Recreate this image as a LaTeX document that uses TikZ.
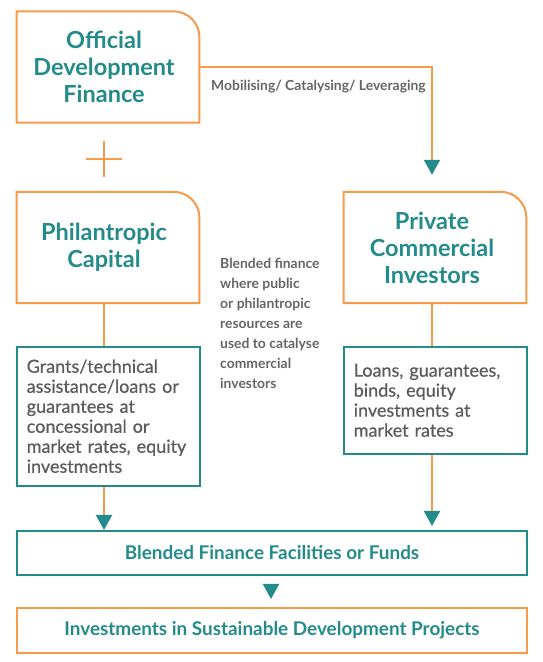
\documentclass[tikz,border=0pt]{standalone}
\usepackage{fontspec}
\setmainfont{Lato}
\newfontface\bodyfont{Lato}[FakeBold=0.6]
\usetikzlibrary{arrows.meta,calc}
\definecolor{orng}{RGB}{247,154,74}
\definecolor{tl}{RGB}{35,140,138}
\definecolor{gry}{RGB}{92,92,92}
\definecolor{lgry}{RGB}{102,102,102}
% outline of a card: rectangle with the top right corner rounded, shifted right of the node by #2
\newcommand\cardoutline[2]{\draw[orng, line width=2pt] ([xshift=#2]#1.south west) -- ([xshift=#2]#1.north west) -- ([xshift=#2-26pt]#1.north east) arc[start angle=90,end angle=0,radius=26pt] -- ([xshift=#2]#1.south east) -- cycle;}
\begin{document}
\begin{tikzpicture}[x=1pt,y=1pt,
  card/.style={align=center, text=tl, font=\bfseries\fontsize{23.5}{27}\selectfont, inner sep=0pt, minimum height=111pt, minimum width=182.5pt},
  bodybox/.style={align=left, text=gry, font=\bodyfont\fontsize{18}{20}\selectfont, inner xsep=9.75pt, inner ysep=0pt, text width=163pt, minimum width=182.5pt},
  frame/.style={draw=tl, line width=2pt, minimum width=182.5pt, inner sep=0pt},
  barbox/.style={line width=2pt, text=tl, font=\bfseries\fontsize{18.9}{22}\selectfont, minimum width=510pt, inner sep=0pt},
  note/.style={text=lgry, font=\bfseries\fontsize{13.9}{20}\selectfont, align=left, inner sep=0pt},
  conn/.style={orng, line width=2pt, -{Triangle[width=16pt,length=15pt,color=tl,fill=tl]}},
  plain/.style={orng, line width=2pt}
]
\useasboundingbox (0,0) rectangle (543,662);
\fill[white] (0,0) rectangle (543,662);

\node[card] (odf) at (104,595) {Official\\Development\\Finance};
\node[card] (phil) at (104,414.5) {Philantropic\\Capital};
\node[card] (pci) at (432,414.5) {Private\\Commercial\\Investors};
\cardoutline{odf}{4pt}
\cardoutline{phil}{4pt}
\cardoutline{pci}{3pt}

% body boxes: frames first (for their anchors), texts set last
\node[frame, minimum height=139pt] (grant) at (108.25,245.8) {};
\node[frame, minimum height=107pt] (loans) at (435.25,261.7) {};

\node[barbox, draw=tl, minimum height=44pt] (blend) at (272,109) {Blended Finance Facilities or Funds};
\node[barbox, draw=orng, minimum height=45pt] (inv) at (272,31.5) {Investments in Sustainable Development Projects};

\node[note, anchor=west] (mob) at (211,575) {Mobilising/ Catalysing/ Leveraging};
\node[note, anchor=west] (mid) at (220,339) {Blended finance\\where public\\or philantropic\\resources are\\used to catalyse\\commercial\\investors};

% plus sign
\coordinate (plus) at (104,503);
\draw[plain] ($(plus)+(-18,0)$) -- ($(plus)+(18,0)$);
\draw[plain] ($(plus)+(0,-18)$) -- ($(plus)+(0,18)$);

% connectors
\draw[conn, shorten >=17pt] ([xshift=4pt]odf.east) -| (pci.north);
\draw[plain] (phil.south) -- (phil.south |- grant.north);
\draw[conn] (phil.south |- grant.south) -- (phil.south |- blend.north);
\draw[plain] (pci.south) -- (pci.south |- loans.north);
\draw[conn, shorten >=4pt] (pci.south |- loans.south) -- (pci.south |- blend.north);
\draw[conn] ([xshift=-1pt,yshift=-10pt]blend.south) -- ([xshift=-1pt,yshift=8pt]inv.north);

% texts of the body boxes, last of all
\node[bodybox, minimum height=139pt] (granttext) at (grant.center)
  {Grants/technical\\assistance/loans~or\\guarantees~at\\concessional~or\\market~rates,~equity\\investments};
\node[bodybox, minimum height=107pt] (loanstext) at (loans.center)
  {Loans,~guarantees,\\binds,~equity\\investments~at\\market~rates};
\end{tikzpicture}
\end{document}
